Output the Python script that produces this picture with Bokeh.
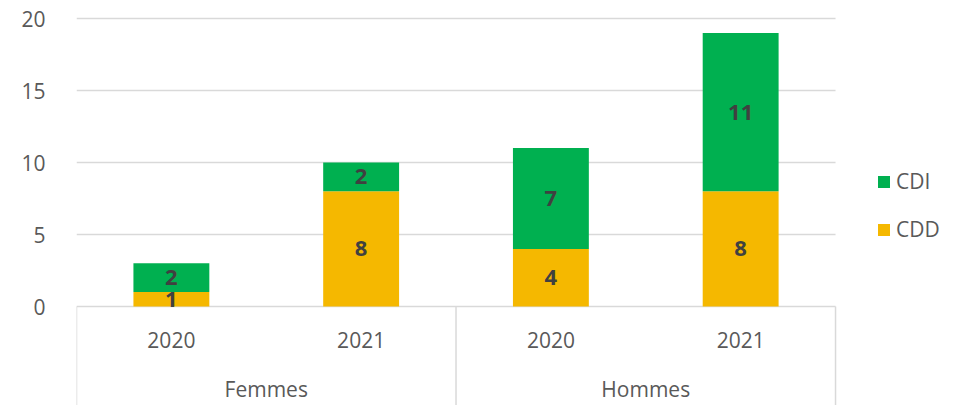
from bokeh.plotting import figure
from bokeh.models import ColumnDataSource, Range1d, FixedTicker, Legend, LegendItem
from bokeh.core.properties import value
from bokeh.embed import file_html
from bokeh.resources import INLINE

# ---- data ----
groups = ["Femmes", "Hommes"]
years = ["2020", "2021", "2020", "2021"]
cdd = [1, 8, 4, 8]
cdi = [2, 2, 7, 11]
y_ticks = [0, 5, 10, 15, 20]

GREEN = "#00B050"
YELLOW = "#F5B800"
GRID = "#D9D9D9"
TXT = "#595959"
FONT = "Open Sans"

n = len(years)
xs = [i + 0.5 for i in range(n)]
src = ColumnDataSource(dict(x=xs, cdd=cdd, cdi=cdi))

y_min = -6.875
p = figure(width=969, height=405, output_backend="svg", toolbar_location=None,
           x_range=Range1d(0, 4.706), y_range=Range1d(y_min, 20.556),
           x_axis_type=None, min_border_left=76, min_border_right=0,
           min_border_top=10, min_border_bottom=0)
p.outline_line_color = None
p.xgrid.visible = False
p.ygrid.visible = False

ax = p.yaxis[0]
ax.ticker = FixedTicker(ticks=y_ticks)
ax.axis_line_color = None
ax.major_tick_line_color = None
ax.minor_tick_line_color = None
ax.major_label_standoff = 25
ax.major_label_text_font = FONT
ax.major_label_text_font_size = "21px"
ax.major_label_text_color = TXT

# horizontal gridlines (only over the category area)
p.segment(x0=[0] * len(y_ticks), y0=y_ticks, x1=[n] * len(y_ticks), y1=y_ticks,
          line_color=GRID, line_width=1.5)

rs = p.vbar_stack(["cdd", "cdi"], x="x", width=0.4, source=src,
                  color=[YELLOW, GREEN], line_color=None)

# separators for category axis
p.segment(x0=[0, 2, 4], y0=[0, 0, 0], x1=[0, 2, 4], y1=[y_min, y_min, y_min],
          line_color=GRID, line_width=1.5)

# data labels
lx, ly, lt = [], [], []
for x, a, b in zip(xs, cdd, cdi):
    lx += [x, x]
    ly += [a / 2, a + b / 2]
    lt += [str(a), str(b)]
p.text(x=lx, y=ly, text=lt, text_align="center", text_baseline="middle",
       text_font=value(FONT), text_font_style="bold", text_font_size="22px",
       text_color="#404040")

# category labels
p.text(x=xs, y=[-2.36] * n, text=years, text_align="center", text_baseline="middle",
       text_font=value(FONT), text_font_size="21px", text_color=TXT)
p.text(x=[1, 3], y=[-5.76, -5.76], text=groups, text_align="center", text_baseline="middle",
       text_font=value(FONT), text_font_size="21px", text_color=TXT)

legend = Legend(items=[LegendItem(label="CDI", renderers=[rs[1]]),
                       LegendItem(label="CDD", renderers=[rs[0]])],
                location=(800, 162), border_line_color=None, background_fill_alpha=0,
                padding=0, margin=0, spacing=20, glyph_width=15, glyph_height=15,
                label_standoff=5, label_text_font=FONT, label_text_font_size="21px",
                label_text_color=TXT)
p.add_layout(legend, "center")

open("out.html", "w").write(file_html(p, INLINE))
